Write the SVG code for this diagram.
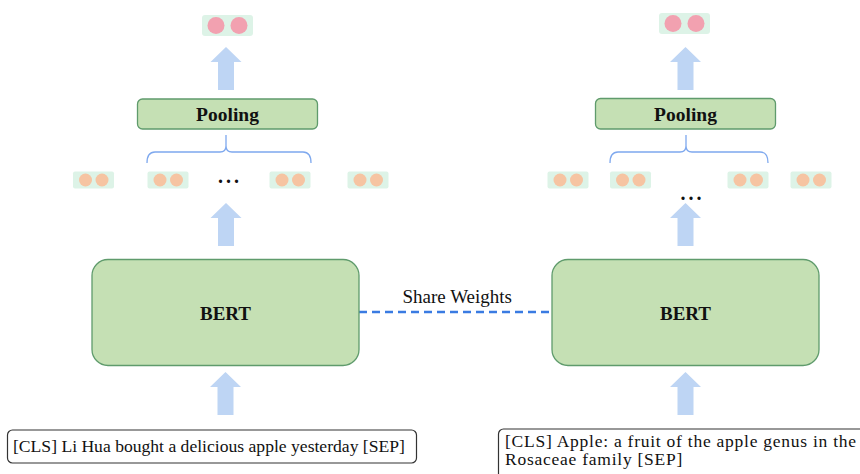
<svg xmlns="http://www.w3.org/2000/svg" width="860" height="474" viewBox="0 0 860 474">
<style>
.box{fill:#c5e0b4;stroke:#5f9b6c;stroke-width:1.3}
.arr{fill:#bed5f4}
.vec{fill:#ddf3e7}
.o{fill:#f6c4a2}
.p{fill:#f2a1b0}
.brace{fill:none;stroke:#7ea8ee;stroke-width:1.3}
.lbl{font-family:"Liberation Serif","Times New Roman",serif;fill:#111}
.b{font-weight:bold;text-anchor:middle}
.txtbox{fill:#fff;stroke:#333;stroke-width:1.2}
.dots{font-family:"Liberation Serif",serif;font-weight:bold;font-size:20px;letter-spacing:3px;fill:#111}
</style>
<defs>
<path id="arrow" class="arr" d="M0,0 L15.5,15 L8,15 L8,43 L-8,43 L-8,15 L-15.5,15 Z"/>
<g id="ovec"><rect class="vec" x="0" y="0" width="41" height="17" rx="2"/><circle class="o" cx="12.5" cy="8.5" r="6.5"/><circle class="o" cx="29" cy="8.5" r="6.5"/></g>
</defs>
<g id="connectors">
<line x1="359" y1="312" x2="552" y2="312" stroke="#3a7be2" stroke-width="2.3" stroke-dasharray="8,5"/>
<use href="#arrow" x="226" y="47"/>
<use href="#arrow" x="226" y="203"/>
<use href="#arrow" x="225.5" y="372"/>
<use href="#arrow" x="685.5" y="47"/>
<use href="#arrow" x="685.5" y="203"/>
<use href="#arrow" x="685.5" y="372"/>
<path class="brace" d="M147,163 Q147,152 155,152 L220,152 Q226,152 226,146 L226,135 M226,146 Q226,152 232,152 L303,152 Q311,152 311,163"/>
<path class="brace" d="M610,163 Q610,152 618,152 L680,152 Q686,152 686,146 L686,135 M686,146 Q686,152 692,152 L760,152 Q768,152 768,163"/>
<text class="lbl" x="402.5" y="303" font-size="19">Share Weights</text>
</g>
<g id="out-left"><rect class="vec" x="202" y="15" width="51" height="21" rx="3"/><circle class="p" cx="216" cy="25.5" r="8.5"/><circle class="p" cx="239" cy="25.5" r="8.5"/></g>
<g id="out-right"><rect class="vec" x="659" y="13" width="51" height="21" rx="3"/><circle class="p" cx="673" cy="23.5" r="8.5"/><circle class="p" cx="696" cy="23.5" r="8.5"/></g>
<g id="pool-left"><rect class="box" x="137.5" y="99" width="180" height="30" rx="5"/><text class="lbl b" x="227.5" y="120.5" font-size="19.5">Pooling</text></g>
<g id="pool-right"><rect class="box" x="595.5" y="98.5" width="180" height="30.5" rx="5"/><text class="lbl b" x="685.5" y="120.5" font-size="19.5">Pooling</text></g>
<g id="tokens-left">
<use href="#ovec" x="73" y="171.5"/><use href="#ovec" x="147.5" y="171.5"/><use href="#ovec" x="269.5" y="171.5"/><use href="#ovec" x="347.5" y="171.5"/>
<text class="dots" x="218" y="183">...</text>
</g>
<g id="tokens-right">
<use href="#ovec" x="547.5" y="171.5"/><use href="#ovec" x="610" y="171.5"/><use href="#ovec" x="727.5" y="171.5"/><use href="#ovec" x="790.5" y="171.5"/>
<text class="dots" x="680.5" y="200">...</text>
</g>
<g id="bert-left"><rect class="box" x="92" y="259.5" width="267" height="106" rx="16"/><text class="lbl b" x="225.5" y="319.5" font-size="19">BERT</text></g>
<g id="bert-right"><rect class="box" x="552" y="259.5" width="267" height="106" rx="16"/><text class="lbl b" x="685.5" y="319.5" font-size="19">BERT</text></g>
<g id="input-left"><rect class="txtbox" x="7.5" y="430" width="409" height="33" rx="5"/><text class="lbl" x="13" y="451.5" font-size="17.6">[CLS] Li Hua bought a delicious apple yesterday [SEP]</text></g>
<g id="input-right"><rect class="txtbox" x="498.5" y="429" width="380" height="60" rx="5"/><text class="lbl" x="505" y="446.5" font-size="17.5" letter-spacing="0.75">[CLS] Apple: a fruit of the apple genus in the</text><text class="lbl" x="505" y="465" font-size="17.5" letter-spacing="0.75">Rosaceae family [SEP]</text></g>
</svg>
